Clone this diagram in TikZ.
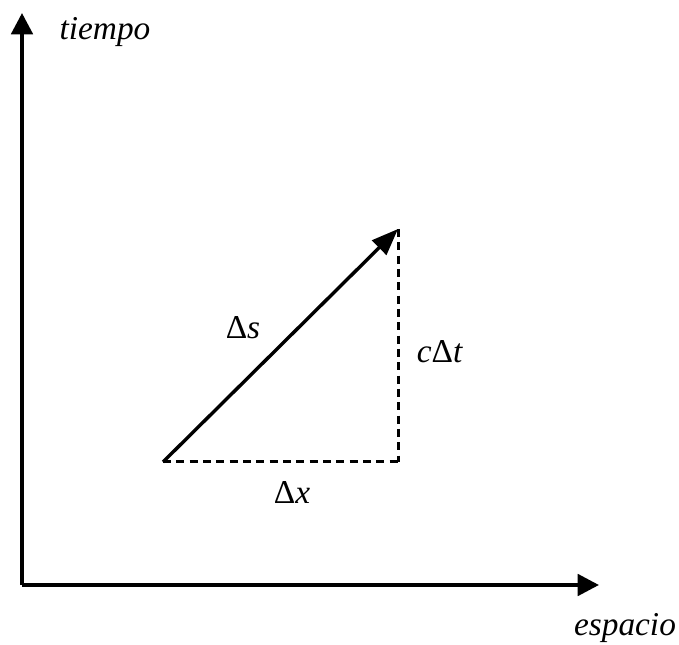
\documentclass[tikz,border=0pt]{standalone}
\usepackage{fontspec}
\setmainfont{Liberation Serif}
\usetikzlibrary{arrows.meta}
\begin{document}
\begin{tikzpicture}[x=0.75pt,y=-0.75pt,
  axis/.style={line width=4pt*0.75, -{Triangle[length=16pt,width=16pt]}},
  vec/.style={line width=3.4pt*0.75, -{Triangle[length=20pt,width=15pt]}},
  dashline/.style={line width=3pt*0.75, dash pattern=on 6pt off 4pt},
  lbl/.style={font=\fontsize{25}{28}\selectfont\itshape, inner sep=0pt},
  dlbl/.style={font=\fontsize{25}{28}\selectfont, inner sep=0pt}]
\useasboundingbox (0,0) rectangle (679,645);
\coordinate (O) at (22,585);
\coordinate (Ytop) at (22,13);
\coordinate (Xend) at (599,585);
\coordinate (A) at (163,462);
\coordinate (B) at (398,229);
\coordinate (C) at (398,462);
\draw[axis] (O) -- (Ytop);
\draw[axis] (O) -- (Xend);
\draw[vec] (A) -- (B);
\draw[dashline] (A) -- (C);
\draw[dashline] (B) -- (C);
\node[lbl] (tiempo) at (105,32) {tiempo};
\node[lbl] (espacio) at (625,628) {espacio};
\node[dlbl] (ds) at (243,328) {Δ\textit{s}};
\node[dlbl] (cdt) at (440,352) {\textit{c}Δ\textit{t}};
\node[dlbl] (dx) at (292,492) {Δ\textit{x}};
\end{tikzpicture}
\end{document}
